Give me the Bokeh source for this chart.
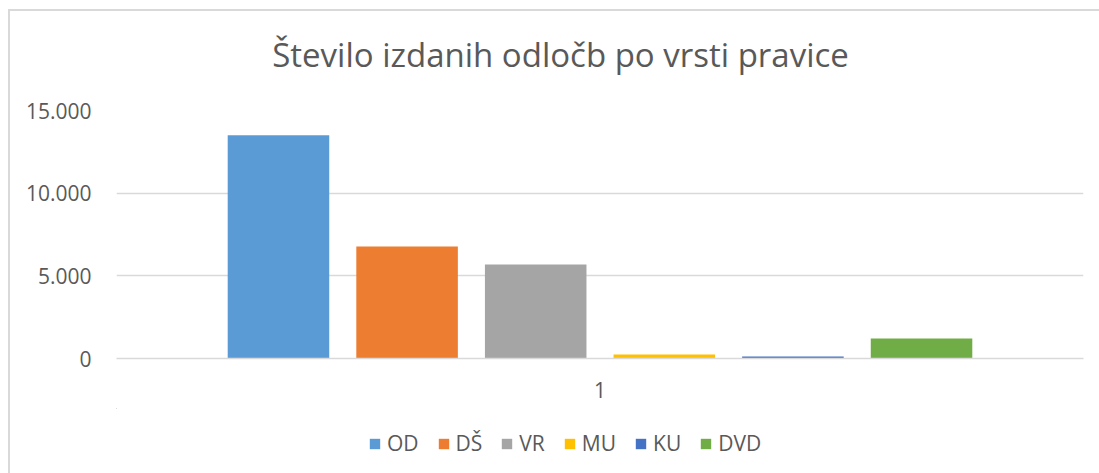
from bokeh.plotting import figure
from bokeh.layouts import column
from bokeh.models import ColumnDataSource, Range1d, FixedTicker, Legend, LegendItem, Label
from bokeh.embed import file_html
from bokeh.resources import INLINE

# ---- data ----
categories = ["OD", "DŠ", "VR", "MU", "KU", "DVD"]
values = [13500, 6780, 5690, 240, 120, 1210]
colors = ["#5B9BD5", "#ED7D31", "#A5A5A5", "#FFC000", "#4472C4", "#70AD47"]
y_ticks = [0, 5000, 10000, 15000]
y_tick_labels = ["0", "5.000", "10.000", "15.000"]
x_label = "1"
title_text = "Število izdanih odločb po vrsti pravice"

FONT = "Open Sans"
TXT = "#595959"
GRID = "#d9d9d9"

n = len(categories)
step = 0.133
xs = [0.5 + (i - (n - 1) / 2) * step for i in range(n)]
src = ColumnDataSource(dict(x=xs, top=values, cat=categories, color=colors))


def strip(height, x_range):
    f = figure(width=1089, height=height, output_backend="svg", toolbar_location=None,
               x_range=x_range, y_range=Range1d(0, 1), min_border=0,
               x_axis_location=None, y_axis_location=None)
    f.outline_line_color = None
    f.grid.visible = False
    f.background_fill_color = "white"
    f.border_fill_color = "white"
    return f


# ---- title strip ----
tf = strip(80, Range1d(0, 1))
tf.add_layout(Label(x=444, y=37, x_units="screen", y_units="screen", text=title_text,
                    text_align="center", text_baseline="alphabetic", text_font=FONT,
                    text_font_size="33px", text_color=TXT))

# ---- main chart ----
p = figure(frame_width=967, frame_height=248, output_backend="svg", toolbar_location=None,
           x_range=Range1d(0, 1), y_range=Range1d(0, 15000),
           min_border_left=106, min_border_right=16, min_border_top=19, min_border_bottom=50)

p.outline_line_color = None
p.background_fill_color = "white"
p.border_fill_color = "white"

r = p.vbar(x="x", top="top", width=0.105, fill_color="color", line_color=None, source=src)

p.yaxis.ticker = FixedTicker(ticks=y_ticks)
p.yaxis.major_label_overrides = {t: l for t, l in zip(y_ticks, y_tick_labels)}
p.yaxis.axis_line_color = None
p.yaxis.major_tick_line_color = None
p.yaxis.minor_tick_line_color = None
p.yaxis.major_label_text_font = FONT
p.yaxis.major_label_text_font_size = "21px"
p.yaxis.major_label_text_color = TXT
p.yaxis.major_label_standoff = 19

p.ygrid.grid_line_color = GRID
p.ygrid.grid_line_width = 1.5
p.ygrid.ticker = FixedTicker(ticks=y_ticks)
p.xgrid.grid_line_color = None

p.xaxis.ticker = FixedTicker(ticks=[0.5])
p.xaxis.major_label_overrides = {0.5: x_label}
p.xaxis.axis_line_color = GRID
p.xaxis.axis_line_width = 1.5
p.xaxis.major_tick_line_color = None
p.xaxis.minor_tick_line_color = None
p.xaxis.major_label_text_font = FONT
p.xaxis.major_label_text_font_size = "21px"
p.xaxis.major_label_text_color = TXT
p.xaxis.major_label_standoff = 17

# ---- legend strip (its zero-height bars lie outside its visible range) ----
lf = strip(65, Range1d(2, 3))
rl = lf.vbar(x="x", top="top", bottom="top", width=0.105, fill_color="color",
             line_color=None, source=src)
items = [LegendItem(label=c, renderers=[rl], index=i) for i, c in enumerate(categories)]
legend = Legend(items=items, orientation="horizontal", location=(252, 16),
                glyph_width=13, glyph_height=13, label_standoff=6, spacing=18,
                label_text_font=FONT, label_text_font_size="21px", label_text_color=TXT,
                border_line_color=None, background_fill_alpha=0, padding=4, margin=0)
lf.add_layout(legend)

layout = column(tf, p, lf, spacing=0)
layout.styles = {"border-left": "2px solid #d9d9d9", "border-top": "2px solid #d9d9d9",
                 "margin-left": "8px", "margin-top": "9px"}

open("out.html", "w").write(file_html(layout, INLINE))
